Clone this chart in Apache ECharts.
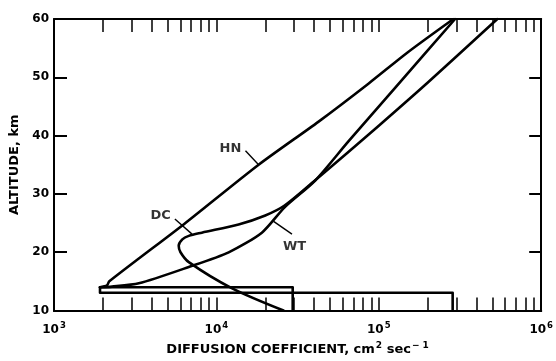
<!DOCTYPE html>
<html><head><meta charset="utf-8">
<script src="https://cdn.jsdelivr.net/npm/echarts@6/dist/echarts.min.js"></script>
<style>html,body{margin:0;padding:0;background:#fff}#c{width:556px;height:361px}</style>
</head><body><div id="c"></div>
<script>
// ---- axis definitions ----
const xMin = 1e3, xMax = 1e6;
const decadeExps = [3, 4, 5, 6];
const mantissas = [1, 2, 3, 4, 5, 6, 7, 8, 9];
const yTicks = [10, 20, 30, 40, 50, 60];

// ---- curves: diffusion coefficient (cm^2/s) vs altitude (km) ----
const hnCoef = [1920, 2120, 2190, 6310, 18200, 42600, 86300, 151000, 288000];
const hnAlt  = [14.0, 14.3, 15.0, 24.8, 35.0, 42.4, 48.9, 54.3, 60];

const wtCoef = [1920, 2275, 3330, 6760, 11900, 19050, 26300, 40600, 65000, 126000, 295000];
const wtAlt  = [14.0, 14.1, 14.66, 17.46, 19.98, 23.35, 27.7, 32.3, 39.0, 48.2, 60];

const dcCoef = [25900, 12500, 6760, 6010, 5860, 6170, 6760, 8130, 13700, 20000, 26300, 40600, 63100, 100000, 202000, 537000];
const dcAlt  = [10, 13.8, 18.3, 20.0, 21.1, 22.2, 22.8, 23.35, 24.76, 26.3, 28.0, 32.35, 36.9, 41.7, 49.2, 60];

// ---- lower tropospheric steps ----
const stepACoef = [29500, 29500, 1920];
const stepAAlt  = [10, 14.0, 14.0];
const stepBCoef = [285000, 285000, 1920, 1920];
const stepBAlt  = [10, 13.05, 13.05, 14.0];

// ---- curve labels and leader lines (data coordinates) ----
const labelText = ['HN', 'DC', 'WT'];
const labelCoef = [12200, 4530, 30300];
const labelAlt  = [37.8, 26.2, 20.9];
const leaderCoef = [[15100, 18200], [5550, 7080], [29200, 22500]];
const leaderAlt  = [[37.4, 35.0], [25.7, 23.1], [23.1, 25.3]];

const zip = (a, b) => a.map((v, i) => [v, b[i]]);
const tickLogs = [];
decadeExps.slice(0, 3).forEach(e => mantissas.forEach(m => {
  const v = e + Math.log10(m);
  if (v > 3 && v < 6) tickLogs.push(v);
}));

const FONT = '"DejaVu Sans", Arial, sans-serif';
const black = '#000';
const curveStyle = { color: black, width: 2.6, cap: 'round', join: 'round' };
const supRich = {
  b: { fontSize: 12, fontWeight: 'bold', color: black, fontFamily: FONT },
  s: { fontSize: 8.5, fontWeight: 'bold', color: black, fontFamily: FONT, padding: [0, 0, 7, 1] }
};
const nameRich = {
  b: { fontSize: 13, fontWeight: 'bold', color: black, fontFamily: FONT },
  s: { fontSize: 9, fontWeight: 'bold', color: black, fontFamily: FONT, padding: [0, 0, 7, 1] }
};

const chart = echarts.init(document.getElementById('c'), null, { renderer: 'canvas' });

const frameLine = { show: true, lineStyle: { color: black, width: 2 } };
const tickAxisBase = {
  type: 'value', min: 3, max: 6, gridIndex: 0,
  axisLine: frameLine, axisLabel: { show: false }, splitLine: { show: false },
  axisTick: { show: true, inside: true, length: 13, customValues: tickLogs, lineStyle: { color: black, width: 1.5 } }
};

const series = [
  { name: 'stepA', type: 'line', data: zip(stepACoef, stepAAlt), showSymbol: false, lineStyle: curveStyle, silent: true },
  { name: 'stepB', type: 'line', data: zip(stepBCoef, stepBAlt), showSymbol: false, lineStyle: curveStyle, silent: true },
  { name: 'HN', type: 'line', data: zip(hnCoef, hnAlt), showSymbol: false, smooth: 0.25, lineStyle: curveStyle },
  { name: 'WT', type: 'line', data: zip(wtCoef, wtAlt), showSymbol: false, smooth: 0.25, lineStyle: curveStyle },
  { name: 'DC', type: 'line', data: zip(dcCoef, dcAlt), showSymbol: false, smooth: 0.3, lineStyle: curveStyle },
  {
    name: 'labels', type: 'scatter', symbolSize: 0, itemStyle: { color: black },
    data: labelText.map((t, i) => [labelCoef[i], labelAlt[i], t]),
    label: { show: true, position: 'inside', formatter: p => p.data[2], color: black,
             fontSize: 13, fontWeight: 'bold', fontFamily: FONT, textBorderWidth: 0 }
  }
];
leaderCoef.forEach((c, i) => {
  series.push({ name: 'leader' + i, type: 'line', data: zip(c, leaderAlt[i]), showSymbol: false,
                lineStyle: { color: black, width: 1.4 } });
});

chart.setOption({
  animation: false,
  backgroundColor: '#fff',
  grid: { left: 54, right: 13, top: 19, bottom: 45 },
  xAxis: [
    {
      type: 'log', logBase: 10, min: xMin, max: xMax, position: 'bottom',
      axisLine: frameLine,
      axisTick: { show: false },
      splitLine: { show: false },
      axisLabel: {
        margin: 11, color: black,
        formatter: v => '{b|10}{s|' + Math.round(Math.log10(v)) + '}',
        rich: supRich
      },
      name: '{b|DIFFUSION COEFFICIENT, cm}{s|2}{b| sec}{s|\u2212 1}',
      nameLocation: 'middle', nameGap: 31,
      nameTextStyle: { rich: nameRich }
    },
    Object.assign({}, tickAxisBase, { position: 'bottom' }),
    Object.assign({}, tickAxisBase, { position: 'top' })
  ],
  yAxis: [
    {
      type: 'value', min: yTicks[0], max: yTicks[yTicks.length - 1], interval: 10, position: 'left',
      axisLine: frameLine,
      axisTick: { show: true, inside: true, length: 13, lineStyle: { color: black, width: 2 } },
      splitLine: { show: false },
      axisLabel: { margin: 5, color: black, fontSize: 12, fontWeight: 'bold', fontFamily: FONT },
      name: 'ALTITUDE, km', nameLocation: 'middle', nameGap: 27,
      nameTextStyle: { color: black, fontSize: 13, fontWeight: 'bold', fontFamily: FONT }
    },
    {
      type: 'value', min: yTicks[0], max: yTicks[yTicks.length - 1], interval: 10, position: 'right',
      axisLine: frameLine,
      axisTick: { show: true, inside: true, length: 12, lineStyle: { color: black, width: 2 } },
      splitLine: { show: false },
      axisLabel: { show: false }
    }
  ],
  series: series
});
</script>
</body></html>
